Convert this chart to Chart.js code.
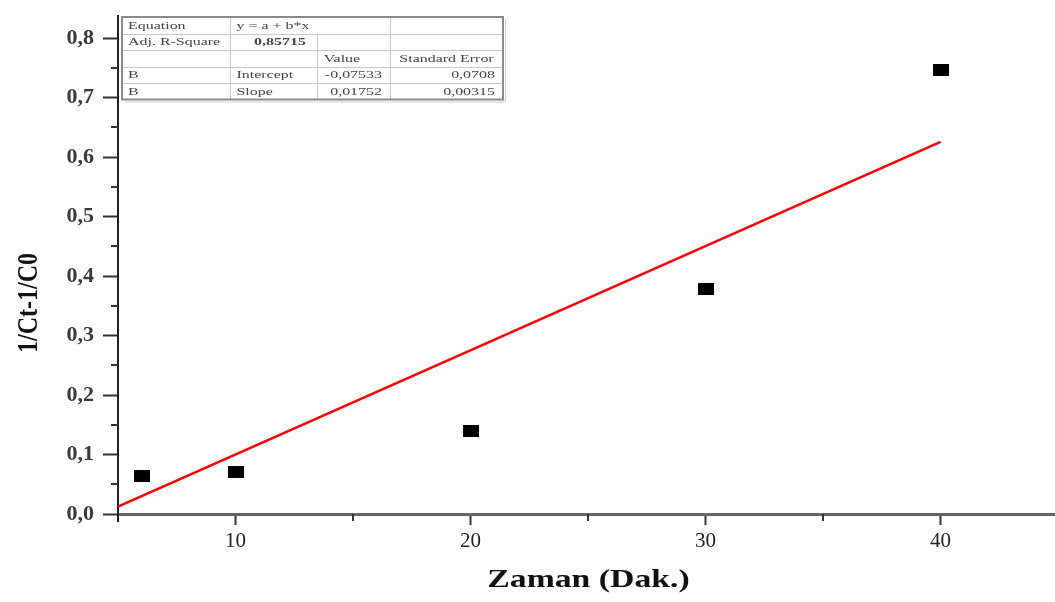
<!DOCTYPE html>
<html><head><meta charset="utf-8">
<script src="https://cdn.jsdelivr.net/npm/chart.js@4/dist/chart.umd.min.js"></script>
<style>html,body{margin:0;padding:0;background:#fff}</style>
</head><body>
<canvas id="c" width="1055" height="602"></canvas>
<script>
// ---- data ----
const timeMin = [6, 10, 20, 30, 40];
const invConc = [0.064, 0.071, 0.139, 0.378, 0.747];
const fitX = [5, 40];
const fitY = [0.0123, 0.6255];
const xTitle = 'Zaman (Dak.)';
const yTitle = '1/Ct-1/C0';
const tableCol1 = ['Equation', 'Adj. R-Square', '', 'B', 'B'];
const tableCol2 = ['y = a + b*x', '0,85715', '', 'Intercept', 'Slope'];
const tableCol3 = ['', '', 'Value', '-0,07533', '0,01752'];
const tableCol4 = ['', '', 'Standard Error', '0,0708', '0,00315'];

const marker = document.createElement('canvas');
marker.width = 16; marker.height = 12;
(function(){const m = marker.getContext('2d'); m.fillStyle = '#000'; m.fillRect(0,0,16,12);})();

const SERIF = '"Liberation Serif", "DejaVu Serif", serif';

function stretchText(ctx, text, x, y, align, sx) {
  ctx.save();
  ctx.translate(x, y);
  ctx.scale(sx, 1);
  ctx.textAlign = align;
  ctx.fillText(text, 0, 0);
  ctx.restore();
}

const extras = {
  id: 'extras',
  afterDraw(chart) {
    const ctx = chart.ctx;
    const xs = chart.scales.x, ys = chart.scales.y;
    const ca = chart.chartArea;
    ctx.save();
    // minor ticks
    ctx.strokeStyle = '#333'; ctx.lineWidth = 2;
    ys.ticks.forEach(t => {
      if (Math.round(t.value * 100) % 10 !== 0) {
        const py = Math.round(ys.getPixelForValue(t.value));
        ctx.beginPath(); ctx.moveTo(ca.left - 7, py); ctx.lineTo(ca.left, py); ctx.stroke();
      }
    });
    xs.ticks.forEach(t => {
      if (t.value % 10 !== 0 && t.value > xs.min && t.value < xs.max) {
        const px = Math.round(xs.getPixelForValue(t.value));
        ctx.beginPath(); ctx.moveTo(px, ca.bottom); ctx.lineTo(px, ca.bottom + 7); ctx.stroke();
      }
    });
    // y axis extends slightly below x axis
    ctx.strokeStyle = '#222'; ctx.lineWidth = 2;
    ctx.beginPath(); ctx.moveTo(ca.left, ca.bottom); ctx.lineTo(ca.left, ca.bottom + 8); ctx.stroke();

    // titles
    ctx.fillStyle = '#111';
    ctx.textBaseline = 'middle';
    ctx.font = 'bold 25px ' + SERIF;
    stretchText(ctx, xTitle, (ca.left + ca.right) / 2 + 2, ca.bottom + 67, 'center', 1.35);
    ctx.save();
    ctx.translate(30, (ca.top + ca.bottom) / 2 + 38);
    ctx.rotate(-Math.PI / 2);
    ctx.scale(1, 1.2);
    ctx.textAlign = 'center';
    ctx.font = 'bold 24px ' + SERIF;
    ctx.fillText(yTitle, 0, 0);
    ctx.restore();

    // statistics table
    const tx = ca.left + 4, ty = ca.top + 1;
    const colX = [0, 108, 195, 268, 381];
    const rowH = 16.5;
    const nRows = tableCol1.length;
    const tw = colX[4], th = rowH * nRows;
    ctx.fillStyle = '#fff';
    ctx.fillRect(tx, ty, tw, th);
    ctx.strokeStyle = '#c8c8c8'; ctx.lineWidth = 1;
    for (let r = 1; r < nRows; r++) {
      const y = Math.round(ty + r * rowH) + 0.5;
      ctx.beginPath(); ctx.moveTo(tx, y); ctx.lineTo(tx + tw, y); ctx.stroke();
    }
    for (let c = 1; c < 4; c++) {
      const x = Math.round(tx + colX[c]) + 0.5;
      const y0 = (c === 2) ? ty + rowH : ty;
      ctx.beginPath(); ctx.moveTo(x, y0); ctx.lineTo(x, ty + th); ctx.stroke();
    }
    ctx.strokeStyle = '#8a8a8a'; ctx.lineWidth = 2;
    ctx.strokeRect(tx, ty, tw, th);
    ctx.strokeStyle = '#d0d0d0'; ctx.lineWidth = 1;
    ctx.beginPath(); ctx.moveTo(tx + 2, ty + th + 2.5); ctx.lineTo(tx + tw + 2.5, ty + th + 2.5); ctx.lineTo(tx + tw + 2.5, ty + 2); ctx.stroke();

    ctx.fillStyle = '#444';
    ctx.textBaseline = 'middle';
    const S = 1.45;
    for (let r = 0; r < nRows; r++) {
      const cy = ty + r * rowH + rowH / 2 + 0.5;
      ctx.font = '11px ' + SERIF;
      stretchText(ctx, tableCol1[r], tx + 6, cy, 'left', S);
      if (r === 1) {
        ctx.font = 'bold 11px ' + SERIF;
        stretchText(ctx, tableCol2[r], tx + (colX[1] + colX[2]) / 2 + 6.5, cy, 'center', S);
        ctx.font = '11px ' + SERIF;
      } else {
        stretchText(ctx, tableCol2[r], tx + colX[1] + 6.5, cy, 'left', S);
      }
      if (r === 2) {
        stretchText(ctx, tableCol3[r], tx + (colX[2] + colX[3]) / 2 - 11.5, cy, 'center', S);
        stretchText(ctx, tableCol4[r], tx + (colX[3] + colX[4]) / 2, cy, 'center', S);
      } else {
        stretchText(ctx, tableCol3[r], tx + colX[3] - 8, cy, 'right', S);
        stretchText(ctx, tableCol4[r], tx + colX[4] - 8, cy, 'right', S);
      }
    }
    ctx.restore();
  }
};

new Chart(document.getElementById('c'), {
  type: 'scatter',
  data: {
    datasets: [
      {
        label: 'fit',
        data: fitX.map((x, i) => ({x, y: fitY[i]})),
        showLine: true,
        borderColor: '#ff0000',
        borderWidth: 2.5,
        pointRadius: 0,
        fill: false,
        order: 2
      },
      {
        label: 'data',
        data: timeMin.map((x, i) => ({x, y: invConc[i]})),
        pointStyle: marker,
        pointRadius: 8,
        backgroundColor: '#000',
        borderColor: '#000',
        order: 1
      }
    ]
  },
  options: {
    responsive: false,
    animation: false,
    devicePixelRatio: 1,
    layout: { autoPadding: false, padding: { top: 16, right: 0, left: 0, bottom: 0 } },
    plugins: { legend: { display: false }, tooltip: { enabled: false } },
    scales: {
      x: {
        type: 'linear',
        min: 5, max: 44.87,
        afterFit: s => { s.height = 88; s.paddingLeft = 0; s.paddingRight = 0; },
        border: { display: true, color: '#666', width: 3 },
        grid: {
          drawOnChartArea: false,
          tickLength: 11,
          tickWidth: 2,
          tickColor: c => (c.tick && c.tick.value % 10 === 0) ? '#333' : 'rgba(0,0,0,0)'
        },
        ticks: {
          stepSize: 5,
          includeBounds: false,
          autoSkip: false,
          maxRotation: 0,
          padding: 4,
          color: '#222',
          font: { family: SERIF, size: 21 },
          callback: v => (v % 10 === 0) ? String(v) : ''
        }
      },
      y: {
        type: 'linear',
        min: 0, max: 0.837,
        afterFit: s => { s.width = 118; s.paddingTop = 0; s.paddingBottom = 0; },
        border: { display: true, color: '#222', width: 2 },
        grid: {
          drawOnChartArea: false,
          tickLength: 15,
          tickWidth: 2,
          tickColor: c => (c.tick && Math.round(c.tick.value * 100) % 10 === 0) ? '#333' : 'rgba(0,0,0,0)'
        },
        ticks: {
          stepSize: 0.05,
          includeBounds: false,
          autoSkip: false,
          padding: 9,
          color: '#3a3a3a',
          font: { family: SERIF, size: 22, weight: 'bold' },
          callback: v => (Math.round(v * 100) % 10 === 0) ? v.toFixed(1).replace('.', ',') : ''
        }
      }
    }
  },
  plugins: [extras]
});
</script>
</body></html>
